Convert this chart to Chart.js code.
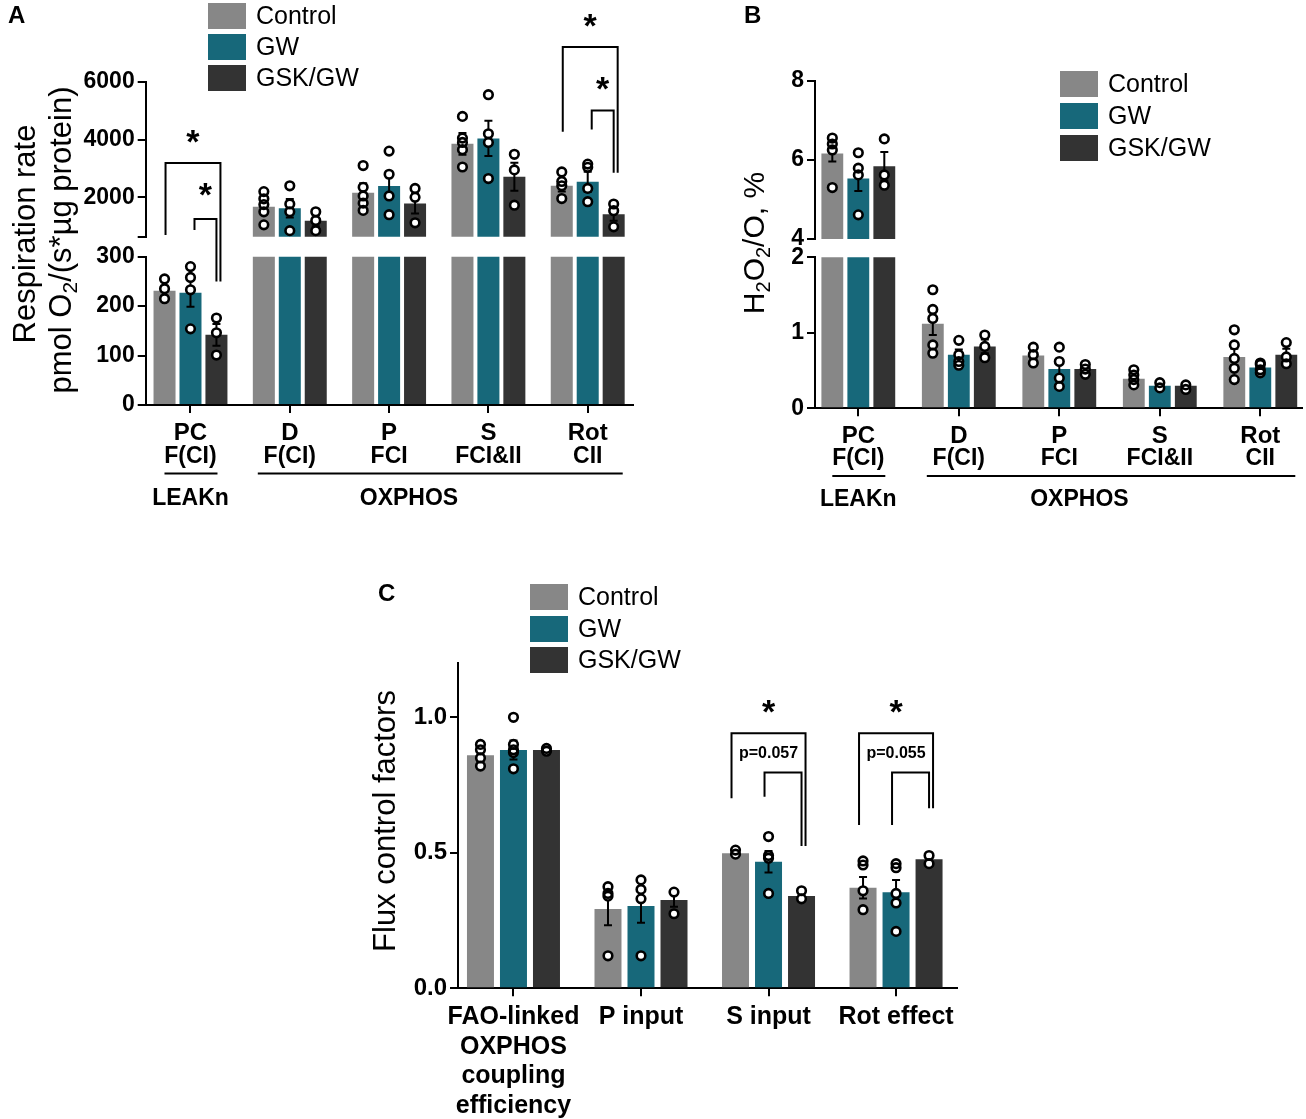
<!DOCTYPE html>
<html>
<head>
<meta charset="utf-8">
<script src="https://cdn.jsdelivr.net/npm/chart.js@4.4.1/dist/chart.umd.min.js"></script>
<style>
  body { margin: 0; background: #fff; }
  .page { position: relative; width: 1306px; height: 1119px; overflow: hidden; }
  canvas { position: absolute; }
</style>
</head>
<body>
<div class="page">
  <canvas id="aLo" width="650" height="520" style="left:0;top:0;width:650px;height:520px"></canvas>
  <canvas id="aHi" width="650" height="520" style="left:0;top:0;width:650px;height:520px"></canvas>
  <canvas id="bLo" width="646" height="520" style="left:660px;top:0;width:646px;height:520px"></canvas>
  <canvas id="bHi" width="646" height="520" style="left:660px;top:0;width:646px;height:520px"></canvas>
  <canvas id="cFlux" width="660" height="559" style="left:340px;top:560px;width:660px;height:559px"></canvas>
</div>
<script>
const FONT = '"Liberation Sans", Arial, Helvetica, sans-serif';
Chart.defaults.font.family = FONT;
Chart.defaults.color = '#000';

// ---------- data ----------
const seriesNames = ['Control', 'GW', 'GSK/GW'];
const seriesColors = ['#878787', '#17687A', '#333333'];

const stateNames = ['PC', 'D', 'P', 'S', 'Rot'];
const stateSub = ['F(CI)', 'F(CI)', 'FCI', 'FCI&II', 'CII'];
const phaseNames = ['LEAKn', 'OXPHOS'];

// A: respiration rate, pmol O2/(s*ug protein)
const respCtrl = [231, 1680, 2160, 3850, 2400];
const respGW = [227, 1620, 2390, 4040, 2540];
const respGSK = [142, 1190, 1790, 2710, 1420];
const respCtrlSem = [10, 240, 330, 380, 200];
const respGWSem = [28, 320, 380, 610, 350];
const respGSKSem = [22, 190, 350, 485, 230];
const respCtrlPts = [[255, 235, 215], [2200, 1950, 1750, 1500, 1050], [3100, 2350, 2050, 1800, 1550], [4800, 4050, 3900, 3650, 3050], [2880, 2550, 2400, 1960]];
const respGWPts = [[280, 258, 233, 154], [2400, 1770, 1500, 850], [3600, 2800, 2050, 1400], [5550, 4200, 3900, 2650], [3150, 3040, 2310, 1850]];
const respGSKPts = [[176, 146, 101], [1500, 1200, 850], [2310, 2000, 1120], [3490, 2950, 1730], [1770, 1540, 980]];

// B: H2O2/O, %
const h2o2Ctrl = [6.16, 1.12, 0.70, 0.39, 0.68];
const h2o2GW = [5.53, 0.71, 0.52, 0.30, 0.54];
const h2o2GSK = [5.84, 0.82, 0.52, 0.30, 0.71];
const h2o2CtrlSem = [0.2, 0.15, 0.05, 0.04, 0.11];
const h2o2GWSem = [0.32, 0.07, 0.11, 0.03, 0.04];
const h2o2GSKSem = [0.36, 0.09, 0.07, 0.03, 0.08];
const h2o2CtrlPts = [[6.55, 6.4, 6.25, 5.3], [1.57, 1.31, 1.19, 0.84, 0.73], [0.81, 0.71, 0.6], [0.51, 0.44, 0.38, 0.31], [1.04, 0.84, 0.66, 0.53, 0.38]];
const h2o2GWPts = [[6.18, 5.79, 5.62, 4.61], [0.9, 0.71, 0.62, 0.57], [0.81, 0.62, 0.4, 0.29], [0.34, 0.27], [0.6, 0.58, 0.51, 0.47]];
const h2o2GSKPts = [[6.53, 5.62, 5.36], [0.97, 0.82, 0.67], [0.58, 0.52, 0.45], [0.31, 0.25], [0.87, 0.68, 0.59]];

// C: flux control factors
const fluxLabels = [['FAO-linked', 'OXPHOS', 'coupling', 'efficiency'], ['P input'], ['S input'], ['Rot effect']];
const fluxCtrl = [0.86, 0.293, 0.498, 0.371];
const fluxGW = [0.879, 0.304, 0.467, 0.354];
const fluxGSK = [0.879, 0.326, 0.341, 0.476];
const fluxCtrlSem = [0.02, 0.06, 0.005, 0.04];
const fluxGWSem = [0.035, 0.062, 0.04, 0.046];
const fluxGSKSem = [0.003, 0.025, 0.01, 0.01];
const fluxCtrlPts = [[0.90, 0.88, 0.85, 0.82], [0.375, 0.35, 0.34, 0.12], [0.51, 0.495], [0.47, 0.455, 0.36, 0.29]];
const fluxGWPts = [[1.0, 0.9, 0.88, 0.87, 0.81], [0.40, 0.365, 0.33, 0.12], [0.56, 0.49, 0.48, 0.35], [0.46, 0.445, 0.35, 0.315, 0.21]];
const fluxGSKPts = [[0.885, 0.875], [0.355, 0.275], [0.36, 0.33], [0.49, 0.46]];

// significance brackets (group, from series, to series, values on the y axis)
const respSig = [
  { g: 0, a: 0, b: 2, top: 3190, endA: 700, endB: 250, lowB: true, text: '*', at: 4220 },
  { g: 0, a: 1, b: 2, top: 1250, endA: 870, endB: 250, lowB: true, text: '*', at: 2390 },
  { g: 4, a: 0, b: 2, top: 7200, endA: 4270, endB: 2850, text: '*', at: 8240 },
  { g: 4, a: 1, b: 2, top: 5000, endA: 4350, endB: 2850, text: '*', at: 6040 }
];
const fluxSig = [
  { g: 2, a: 0, b: 2, top: 0.941, endA: 0.701, endB: 0.525, text: '*', at: 1.05 },
  { g: 2, a: 1, b: 2, top: 0.796, endA: 0.707, endB: 0.525, text: 'p=0.057', at: 0.867 },
  { g: 3, a: 0, b: 2, top: 0.941, endA: 0.603, endB: 0.664, text: '*', at: 1.05 },
  { g: 3, a: 1, b: 2, top: 0.796, endA: 0.603, endB: 0.664, text: 'p=0.055', at: 0.867 }
];

// ---------- drawing helpers ----------
const marks = {
  id: 'marks',
  afterDatasetsDraw(chart) {
    const ctx = chart.ctx, ys = chart.scales.y;
    ctx.save();
    chart.data.datasets.forEach((ds, di) => {
      chart.getDatasetMeta(di).data.forEach((bar, i) => {
        const m = ds.data[i].y, e = ds.sem[i];
        if (m >= ys.min && m <= ys.max) {
          const y1 = ys.getPixelForValue(m - e), y2 = ys.getPixelForValue(m + e);
          ctx.strokeStyle = '#000';
          ctx.lineWidth = 2;
          ctx.beginPath();
          ctx.moveTo(bar.x, y1); ctx.lineTo(bar.x, y2);
          ctx.moveTo(bar.x - 4, y1); ctx.lineTo(bar.x + 4, y1);
          ctx.moveTo(bar.x - 4, y2); ctx.lineTo(bar.x + 4, y2);
          ctx.stroke();
        }
        // individual animals: white-filled open circles
        const pts = ds.pts[i].filter(v => v >= ys.min && v <= ys.max);
        ctx.fillStyle = '#fff';
        pts.forEach(v => {
          ctx.beginPath();
          ctx.arc(bar.x, ys.getPixelForValue(v), 4.3, 0, Math.PI * 2);
          ctx.fill();
        });
        ctx.strokeStyle = '#000';
        ctx.lineWidth = 2.6;
        pts.forEach(v => {
          ctx.beginPath();
          ctx.arc(bar.x, ys.getPixelForValue(v), 4.3, 0, Math.PI * 2);
          ctx.stroke();
        });
      });
    });
    ctx.restore();
  }
};

function richText(ctx, parts, x, y, size, rotate) {
  ctx.save();
  ctx.translate(x, y);
  if (rotate) ctx.rotate(-Math.PI / 2);
  const fontOf = p => (p[1] ? Math.round(size * 0.68) : size) + 'px ' + FONT;
  let total = 0;
  parts.forEach(p => { ctx.font = fontOf(p); total += ctx.measureText(p[0]).width; });
  let cx = -total / 2;
  ctx.fillStyle = '#000';
  ctx.textAlign = 'left';
  ctx.textBaseline = 'alphabetic';
  parts.forEach(p => {
    ctx.font = fontOf(p);
    ctx.fillText(p[0], cx, p[1] === 'sub' ? size * 0.2 : 0);
    cx += ctx.measureText(p[0]).width;
  });
  ctx.restore();
}

function text(ctx, s, x, y, font, align) {
  ctx.save();
  ctx.font = font;
  ctx.fillStyle = '#000';
  ctx.textAlign = align || 'center';
  ctx.textBaseline = 'middle';
  ctx.fillText(s, x, y);
  ctx.restore();
}

function legend(c, left, tops) {
  const ctx = c.ctx;
  c.data.datasets.forEach((ds, i) => {
    ctx.fillStyle = ds.backgroundColor;
    ctx.fillRect(left, tops[i], 38, 26);
    text(ctx, ds.label, left + 48, tops[i] + 14, '25px ' + FONT, 'left');
  });
}

function star(ctx, s, x, y) {
  if (s === '*') {
    ctx.save();
    ctx.font = 'bold 34px ' + FONT;
    ctx.fillStyle = '#000';
    ctx.textAlign = 'center';
    ctx.textBaseline = 'alphabetic';
    ctx.fillText('*', x, y + 34 * 0.58);
    ctx.restore();
  } else {
    text(ctx, s, x, y, 'bold 16px ' + FONT);
  }
}

function brackets(c, list, lowChart, dx, labelAtGroup) {
  const ctx = c.ctx, yh = c.scales.y;
  const barX = (g, s) => c.getDatasetMeta(s).data[g].x;
  ctx.save();
  ctx.strokeStyle = '#000';
  ctx.lineWidth = 2;
  list.forEach(b => {
    const off = b.a === 0 ? dx.outer : dx.inner;
    const xa = barX(b.g, b.a) + off[0], xb = barX(b.g, b.b) + off[1];
    const yt = yh.getPixelForValue(b.top);
    const ya = yh.getPixelForValue(b.endA);
    const yb = (b.lowB ? lowChart.scales.y : yh).getPixelForValue(b.endB);
    ctx.beginPath();
    ctx.moveTo(xa, ya); ctx.lineTo(xa, yt); ctx.lineTo(xb, yt); ctx.lineTo(xb, yb);
    ctx.stroke();
    const lx = labelAtGroup ? c.scales.x.getPixelForValue(b.g) : (xa + xb) / 2;
    star(ctx, b.text, lx, yh.getPixelForValue(b.at));
  });
  ctx.restore();
}

function stateLabels(c, y1, y2, yLine, y3) {
  const ctx = c.ctx, xs = c.scales.x;
  stateNames.forEach((s, i) => {
    const x = xs.getPixelForValue(i);
    text(ctx, s, x, y1, 'bold 24px ' + FONT);
    text(ctx, stateSub[i], x, y2, 'bold 23px ' + FONT);
  });
  ctx.save();
  ctx.strokeStyle = '#000';
  ctx.lineWidth = 2;
  ctx.beginPath();
  ctx.moveTo(xs.getPixelForValue(0) - 26, yLine); ctx.lineTo(xs.getPixelForValue(0) + 27, yLine);
  ctx.moveTo(xs.getPixelForValue(1) - 32, yLine); ctx.lineTo(xs.getPixelForValue(4) + 35, yLine);
  ctx.stroke();
  ctx.restore();
  text(ctx, phaseNames[0], xs.getPixelForValue(0), y3, 'bold 23px ' + FONT);
  text(ctx, phaseNames[1], xs.getPixelForValue(2.2), y3, 'bold 23px ' + FONT);
}

function barChart(id, o) {
  const canvas = document.getElementById(id);
  const W = canvas.width, H = canvas.height;
  const datasets = o.means.map((vals, s) => ({
    label: seriesNames[s],
    data: vals.map((v, i) => ({ x: i, y: v })),
    sem: o.sems[s],
    pts: o.pts[s],
    backgroundColor: seriesColors[s],
    borderWidth: 0,
    categoryPercentage: o.cat,
    barPercentage: o.bar,
    clip: 0
  }));
  const axisLine = { color: '#000', width: 2 };
  const tickGrid = { drawOnChartArea: false, color: '#000', lineWidth: 2, tickLength: 8, offset: false };
  return new Chart(canvas, {
    type: 'bar',
    data: { datasets },
    plugins: [marks, { id: 'extra', afterDraw: c => { if (o.draw) o.draw(c); } }],
    options: {
      responsive: false,
      animation: false,
      events: [],
      layout: { padding: { left: 0, top: o.area.top, right: W - o.area.right, bottom: H - o.area.bottom } },
      plugins: { legend: { display: false }, tooltip: { enabled: false } },
      scales: {
        x: {
          type: 'linear', offset: false, min: o.xMin, max: o.xMax, display: o.showX,
          afterBuildTicks: s => { s.ticks = o.means[0].map((v, i) => ({ value: i })); },
          afterFit: s => { s.height = 0; },
          ticks: { display: false },
          grid: tickGrid,
          border: axisLine
        },
        y: {
          min: o.yMin, max: o.yMax,
          afterBuildTicks: s => { s.ticks = o.yTicks.map(v => ({ value: v })); },
          afterFit: s => { s.width = o.area.left; },
          ticks: { font: { size: o.tickSize, weight: 'bold' }, color: '#000', padding: 3, callback: o.fmt },
          grid: tickGrid,
          border: axisLine
        }
      }
    }
  });
}

// ---------- panel A ----------
const aCommon = {
  means: [respCtrl, respGW, respGSK],
  sems: [respCtrlSem, respGWSem, respGSKSem],
  pts: [respCtrlPts, respGWPts, respGSKPts],
  cat: 0.784, bar: 0.848, xMin: -0.451, xMax: 4.456, tickSize: 23
};
const aLo = barChart('aLo', Object.assign({}, aCommon, {
  area: { left: 145.7, right: 633, top: 256.7, bottom: 405 },
  yMin: 0, yMax: 300, yTicks: [0, 100, 200, 300], fmt: v => String(v), showX: true,
  draw: c => stateLabels(c, 433, 457, 473.5, 498.5)
}));
const aHi = barChart('aHi', Object.assign({}, aCommon, {
  area: { left: 145.7, right: 633, top: 81.7, bottom: 236.7 },
  yMin: 640, yMax: 6000, yTicks: [640, 2000, 4000, 6000], fmt: v => (v >= 2000 ? String(v) : ''), showX: false,
  draw: c => {
    text(c.ctx, 'A', 8, 16, 'bold 24px ' + FONT, 'left');
    legend(c, 208, [3, 34, 65]);
    richText(c.ctx, [['Respiration rate']], 35, 234, 31, true);
    richText(c.ctx, [['pmol O'], ['2', 'sub'], ['/(s*µg protein)']], 71, 240, 31, true);
    brackets(c, respSig, aLo, { outer: [1, 4], inner: [4, 0] }, false);
  }
}));

// ---------- panel B ----------
const bCommon = {
  means: [h2o2Ctrl, h2o2GW, h2o2GSK],
  sems: [h2o2CtrlSem, h2o2GWSem, h2o2GSKSem],
  pts: [h2o2CtrlPts, h2o2GWPts, h2o2GSKPts],
  cat: 0.776, bar: 0.84, xMin: -0.431, xMax: 4.415, tickSize: 23, fmt: v => String(v)
};
const bLo = barChart('bLo', Object.assign({}, bCommon, {
  area: { left: 155, right: 642, top: 257.3, bottom: 408.3 },
  yMin: 0, yMax: 2, yTicks: [0, 1, 2], showX: true,
  draw: c => stateLabels(c, 436.7, 458.3, 476, 500)
}));
const bHi = barChart('bHi', Object.assign({}, bCommon, {
  area: { left: 155, right: 642, top: 80.7, bottom: 239 },
  yMin: 4, yMax: 8, yTicks: [4, 6, 8], showX: false,
  draw: c => {
    text(c.ctx, 'B', 84, 16, 'bold 24px ' + FONT, 'left');
    legend(c, 400, [71, 103, 135]);
    richText(c.ctx, [['H'], ['2', 'sub'], ['O'], ['2', 'sub'], ['/O, %']], 104, 243, 30, true);
  }
}));

// ---------- panel C ----------
const cFlux = barChart('cFlux', {
  means: [fluxCtrl, fluxGW, fluxGSK],
  sems: [fluxCtrlSem, fluxGWSem, fluxGSKSem],
  pts: [fluxCtrlPts, fluxGWPts, fluxGSKPts],
  cat: 0.7765, bar: 0.818, xMin: -0.435, xMax: 3.478, tickSize: 24,
  area: { left: 118, right: 617, top: 103.1, bottom: 428.3 },
  yMin: 0, yMax: 1.2, yTicks: [0, 0.5, 1], fmt: v => v.toFixed(1), showX: true,
  draw: c => {
    const ctx = c.ctx, xs = c.scales.x;
    text(ctx, 'C', 38, 34, 'bold 24px ' + FONT, 'left');
    legend(c, 190, [24, 56, 87]);
    richText(ctx, [['Flux control factors']], 54.5, 261, 31, true);
    fluxLabels.forEach((lines, i) => {
      lines.forEach((l, k) => text(ctx, l, xs.getPixelForValue(i), 457.3 + k * 29.5, 'bold 25px ' + FONT));
    });
    brackets(c, fluxSig, null, { outer: [-4, 4], inner: [-4, 0] }, true);
  }
});
</script>
</body>
</html>
